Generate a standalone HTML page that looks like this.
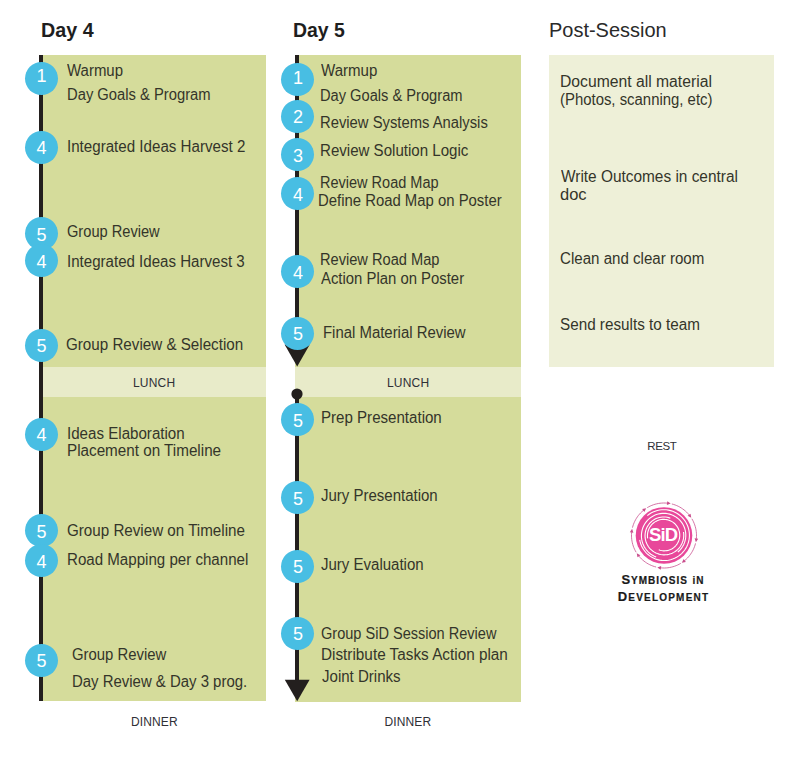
<!DOCTYPE html>
<html><head><meta charset="utf-8"><style>
html,body{margin:0;padding:0;background:#fff;width:800px;height:757px;overflow:hidden;}
body{position:relative;font-family:"Liberation Sans",sans-serif;}
.t{position:absolute;white-space:nowrap;}
.r{position:absolute;}
.c{position:absolute;border-radius:50%;}
.n{position:absolute;width:30px;text-align:center;font-size:18px;line-height:20px;color:#fff;}
</style></head><body>
<div class="t" id="h4" style="left:41.08px;top:19.23px;font-size:21px;line-height:21px;color:#1e1e1e;font-weight:bold;transform:scaleX(0.9394);transform-origin:0 0;">Day 4</div>
<div class="t" id="h5" style="left:293.07px;top:19.23px;font-size:21px;line-height:21px;color:#1e1e1e;font-weight:bold;transform:scaleX(0.9259);transform-origin:0 0;">Day 5</div>
<div class="t" id="hp" style="left:548.67px;top:19.23px;font-size:21px;line-height:21px;color:#2a2a2a;transform:scaleX(0.9505);transform-origin:0 0;">Post-Session</div>
<div class="r" style="left:39px;top:55px;width:227px;height:646px;background:#d5dc9b;"></div>
<div class="r" style="left:43px;top:366.5px;width:223px;height:30px;background:#e8ebc9;"></div>
<div class="r" style="left:295px;top:55px;width:225.5px;height:646.5px;background:#d5dc9b;"></div>
<div class="r" style="left:294.5px;top:366.5px;width:226px;height:30px;background:#e8ebc9;"></div>
<div class="r" style="left:549px;top:55px;width:224.5px;height:311.5px;background:#eef0d8;"></div>
<div class="r" style="left:39px;top:55px;width:4px;height:646px;background:#231f1e;"></div>
<div class="r" style="left:295px;top:55px;width:4px;height:290px;background:#231f1e;"></div>
<div class="r" style="left:295px;top:394px;width:4px;height:290px;background:#231f1e;"></div>
<svg class="r" style="left:0;top:0" width="800" height="757"><polygon points="284.6,344.5 309.8,344.5 297.2,366.5" fill="#231f1e"/><polygon points="284.8,679.7 309.6,679.7 297.2,701.2" fill="#231f1e"/><circle cx="297" cy="394" r="5.6" fill="#231f1e"/></svg>
<div class="c" style="left:24.90px;top:61.50px;width:33px;height:33px;background:#48bee3"></div>
<div class="n" style="left:26.40px;top:66.00px;">1</div>
<div class="c" style="left:24.90px;top:130.50px;width:33px;height:33px;background:#48bee3"></div>
<div class="n" style="left:26.40px;top:138.40px;">4</div>
<div class="c" style="left:24.90px;top:217.30px;width:33px;height:33px;background:#48bee3"></div>
<div class="n" style="left:26.40px;top:224.60px;">5</div>
<div class="c" style="left:24.90px;top:244.20px;width:33px;height:33px;background:#48bee3"></div>
<div class="n" style="left:26.40px;top:252.10px;">4</div>
<div class="c" style="left:24.90px;top:329.00px;width:33px;height:33px;background:#48bee3"></div>
<div class="n" style="left:26.40px;top:336.30px;">5</div>
<div class="c" style="left:24.90px;top:417.50px;width:33px;height:33px;background:#48bee3"></div>
<div class="n" style="left:26.40px;top:425.40px;">4</div>
<div class="c" style="left:24.90px;top:514.20px;width:33px;height:33px;background:#48bee3"></div>
<div class="n" style="left:26.40px;top:521.50px;">5</div>
<div class="c" style="left:24.90px;top:544.10px;width:33px;height:33px;background:#48bee3"></div>
<div class="n" style="left:26.40px;top:552.00px;">4</div>
<div class="c" style="left:24.90px;top:643.50px;width:33px;height:33px;background:#48bee3"></div>
<div class="n" style="left:26.40px;top:650.80px;">5</div>
<div class="c" style="left:281.40px;top:63.30px;width:33px;height:33px;background:#48bee3"></div>
<div class="n" style="left:282.90px;top:67.80px;">1</div>
<div class="c" style="left:281.40px;top:100.40px;width:33px;height:33px;background:#48bee3"></div>
<div class="n" style="left:282.90px;top:106.50px;">2</div>
<div class="c" style="left:281.40px;top:138.00px;width:33px;height:33px;background:#48bee3"></div>
<div class="n" style="left:282.90px;top:145.50px;">3</div>
<div class="c" style="left:281.40px;top:177.10px;width:33px;height:33px;background:#48bee3"></div>
<div class="n" style="left:282.90px;top:185.00px;">4</div>
<div class="c" style="left:281.40px;top:254.80px;width:33px;height:33px;background:#48bee3"></div>
<div class="n" style="left:282.90px;top:262.70px;">4</div>
<div class="c" style="left:281.40px;top:317.00px;width:33px;height:33px;background:#48bee3"></div>
<div class="n" style="left:282.90px;top:324.30px;">5</div>
<div class="c" style="left:281.40px;top:403.20px;width:33px;height:33px;background:#48bee3"></div>
<div class="n" style="left:282.90px;top:410.50px;">5</div>
<div class="c" style="left:281.40px;top:481.40px;width:33px;height:33px;background:#48bee3"></div>
<div class="n" style="left:282.90px;top:488.70px;">5</div>
<div class="c" style="left:281.40px;top:549.90px;width:33px;height:33px;background:#48bee3"></div>
<div class="n" style="left:282.90px;top:557.20px;">5</div>
<div class="c" style="left:281.40px;top:616.90px;width:33px;height:33px;background:#48bee3"></div>
<div class="n" style="left:282.90px;top:624.20px;">5</div>
<div class="t" id="t0" style="left:67.42px;top:62.56px;font-size:16px;line-height:16px;color:#34352a;transform:scaleX(0.9357);transform-origin:0 0;">Warmup</div>
<div class="t" id="t1" style="left:66.51px;top:86.96px;font-size:16px;line-height:16px;color:#34352a;transform:scaleX(0.9229);transform-origin:0 0;">Day Goals &amp; Program</div>
<div class="t" id="t2" style="left:66.69px;top:138.56px;font-size:16px;line-height:16px;color:#34352a;transform:scaleX(0.9457);transform-origin:0 0;">Integrated Ideas Harvest 2</div>
<div class="t" id="t3" style="left:66.65px;top:223.96px;font-size:16px;line-height:16px;color:#34352a;transform:scaleX(0.9139);transform-origin:0 0;">Group Review</div>
<div class="t" id="t4" style="left:66.69px;top:254.06px;font-size:16px;line-height:16px;color:#34352a;transform:scaleX(0.9425);transform-origin:0 0;">Integrated Ideas Harvest 3</div>
<div class="t" id="t5" style="left:66.45px;top:337.46px;font-size:16px;line-height:16px;color:#34352a;transform:scaleX(0.9487);transform-origin:0 0;">Group Review &amp; Selection</div>
<div class="t" id="t6" style="left:66.69px;top:426.06px;font-size:16px;line-height:16px;color:#34352a;transform:scaleX(0.9451);transform-origin:0 0;">Ideas Elaboration</div>
<div class="t" id="t7" style="left:66.68px;top:443.46px;font-size:16px;line-height:16px;color:#34352a;transform:scaleX(0.9519);transform-origin:0 0;">Placement on Timeline</div>
<div class="t" id="t8" style="left:66.63px;top:522.96px;font-size:16px;line-height:16px;color:#34352a;transform:scaleX(0.9482);transform-origin:0 0;">Group Review on Timeline</div>
<div class="t" id="t9" style="left:66.69px;top:552.06px;font-size:16px;line-height:16px;color:#34352a;transform:scaleX(0.9437);transform-origin:0 0;">Road Mapping per channel</div>
<div class="t" id="t10" style="left:72.42px;top:646.76px;font-size:16px;line-height:16px;color:#34352a;transform:scaleX(0.9297);transform-origin:0 0;">Group Review</div>
<div class="t" id="t11" style="left:72.49px;top:674.46px;font-size:16px;line-height:16px;color:#34352a;transform:scaleX(0.9335);transform-origin:0 0;">Day Review &amp; Day 3 prog.</div>
<div class="t" id="t12" style="left:321.00px;top:62.96px;font-size:16px;line-height:16px;color:#34352a;transform:scaleX(0.9408);transform-origin:0 0;">Warmup</div>
<div class="t" id="t13" style="left:320.08px;top:87.56px;font-size:16px;line-height:16px;color:#34352a;transform:scaleX(0.9156);transform-origin:0 0;">Day Goals &amp; Program</div>
<div class="t" id="t14" style="left:320.07px;top:115.46px;font-size:16px;line-height:16px;color:#34352a;transform:scaleX(0.9250);transform-origin:0 0;">Review Systems Analysis</div>
<div class="t" id="t15" style="left:320.06px;top:143.06px;font-size:16px;line-height:16px;color:#34352a;transform:scaleX(0.9423);transform-origin:0 0;">Review Solution Logic</div>
<div class="t" id="t16" style="left:320.09px;top:174.56px;font-size:16px;line-height:16px;color:#34352a;transform:scaleX(0.9070);transform-origin:0 0;">Review Road Map</div>
<div class="t" id="t17" style="left:317.68px;top:193.46px;font-size:16px;line-height:16px;color:#34352a;transform:scaleX(0.9301);transform-origin:0 0;">Define Road Map on Poster</div>
<div class="t" id="t18" style="left:320.09px;top:251.56px;font-size:16px;line-height:16px;color:#34352a;transform:scaleX(0.9132);transform-origin:0 0;">Review Road Map</div>
<div class="t" id="t19" style="left:321.00px;top:271.06px;font-size:16px;line-height:16px;color:#34352a;transform:scaleX(0.9299);transform-origin:0 0;">Action Plan on Poster</div>
<div class="t" id="t20" style="left:323.49px;top:325.06px;font-size:16px;line-height:16px;color:#34352a;transform:scaleX(0.9322);transform-origin:0 0;">Final Material Review</div>
<div class="t" id="t21" style="left:321.06px;top:410.26px;font-size:16px;line-height:16px;color:#34352a;transform:scaleX(0.9429);transform-origin:0 0;">Prep Presentation</div>
<div class="t" id="t22" style="left:321.24px;top:488.46px;font-size:16px;line-height:16px;color:#34352a;transform:scaleX(0.9374);transform-origin:0 0;">Jury Presentation</div>
<div class="t" id="t23" style="left:321.24px;top:556.66px;font-size:16px;line-height:16px;color:#34352a;transform:scaleX(0.9380);transform-origin:0 0;">Jury Evaluation</div>
<div class="t" id="t24" style="left:321.09px;top:625.86px;font-size:16px;line-height:16px;color:#34352a;transform:scaleX(0.9089);transform-origin:0 0;">Group SiD Session Review</div>
<div class="t" id="t25" style="left:321.04px;top:647.06px;font-size:16px;line-height:16px;color:#34352a;transform:scaleX(0.9565);transform-origin:0 0;">Distribute Tasks Action plan</div>
<div class="t" id="t26" style="left:322.00px;top:669.46px;font-size:16px;line-height:16px;color:#34352a;transform:scaleX(0.9398);transform-origin:0 0;">Joint Drinks</div>
<div class="t" id="t27" style="left:560.42px;top:73.96px;font-size:16px;line-height:16px;color:#34352a;transform:scaleX(0.9816);transform-origin:0 0;">Document all material</div>
<div class="t" id="t28" style="left:560.49px;top:91.96px;font-size:16px;line-height:16px;color:#34352a;transform:scaleX(0.9317);transform-origin:0 0;">(Photos, scanning, etc)</div>
<div class="t" id="t29" style="left:561.41px;top:169.06px;font-size:16px;line-height:16px;color:#34352a;transform:scaleX(0.9626);transform-origin:0 0;">Write Outcomes in central</div>
<div class="t" id="t30" style="left:560.38px;top:187.06px;font-size:16px;line-height:16px;color:#34352a;transform:scaleX(1.0292);transform-origin:0 0;">doc</div>
<div class="t" id="t31" style="left:560.42px;top:250.56px;font-size:16px;line-height:16px;color:#34352a;transform:scaleX(0.9434);transform-origin:0 0;">Clean and clear room</div>
<div class="t" id="t32" style="left:560.42px;top:317.16px;font-size:16px;line-height:16px;color:#34352a;transform:scaleX(0.9531);transform-origin:0 0;">Send results to team</div>
<div class="t" style="left:54px;width:200px;text-align:center;top:377.04px;font-size:12px;line-height:12px;letter-spacing:0.2px;text-indent:0.2px;color:#2f3036">LUNCH</div>
<div class="t" style="left:308px;width:200px;text-align:center;top:376.84px;font-size:12px;line-height:12px;letter-spacing:0.2px;text-indent:0.2px;color:#2f3036">LUNCH</div>
<div class="t" style="left:54.30000000000001px;width:200px;text-align:center;top:715.84px;font-size:12px;line-height:12px;letter-spacing:0.15px;text-indent:0.15px;color:#2f3036">DINNER</div>
<div class="t" style="left:307.8px;width:200px;text-align:center;top:715.84px;font-size:12px;line-height:12px;letter-spacing:0.15px;text-indent:0.15px;color:#2f3036">DINNER</div>
<div class="t" style="left:562px;width:200px;text-align:center;top:440.87px;font-size:11.5px;line-height:11.5px;letter-spacing:-0.45px;text-indent:-0.45px;color:#2f3036">REST</div>
<svg class="r" style="left:600px;top:470px" width="130" height="130" viewBox="600 470 130 130"><circle cx="664" cy="535.5" r="28.3" fill="#e8489a"/><polyline points="647.29,515.58 649.10,514.22 651.02,513.02 653.04,512.00 655.14,511.15 657.30,510.49 659.51,510.03 661.75,509.75 664.00,509.68 666.25,509.80 668.48,510.11 670.67,510.62 672.80,511.32 674.87,512.20 676.84,513.25 678.72,514.48 680.48,515.86 682.12,517.38 683.61,519.04 684.95,520.83 686.13,522.72 687.14,524.71 687.97,526.77 688.62,528.90 689.08,531.08 689.35,533.28 689.42,535.50 689.30,537.71 688.99,539.91 688.49,542.06 687.81,544.16 686.94,546.20 685.90,548.14 684.70,549.99 683.34,551.73 681.83,553.33 680.20,554.80 678.44,556.12 676.58,557.29 674.62,558.28 672.59,559.10 670.49,559.73 668.35,560.19 666.18,560.45 664.00,560.52 661.82,560.40 659.66,560.10 657.54,559.61 655.47,558.93 653.47,558.08 651.56,557.05 649.74,555.87 648.03,554.53 646.45,553.05 645.00,551.44 643.70,549.71 642.56,547.88 641.58,545.95 640.78,543.95 640.15,541.89 639.71,539.78" fill="none" stroke="#fff" stroke-width="1.1"/><polyline points="656.17,557.02 654.33,556.23 652.57,555.29 650.90,554.20 649.34,552.97 647.89,551.61 646.56,550.13 645.37,548.55 644.32,546.86 643.43,545.09 642.69,543.26 642.12,541.36 641.71,539.43 641.47,537.47 641.41,535.50 641.52,533.53 641.80,531.59 642.25,529.67 642.86,527.80 643.63,526.00 644.55,524.27 645.62,522.63 646.83,521.09 648.17,519.67 649.62,518.37 651.18,517.20 652.84,516.17 654.58,515.29 656.38,514.57 658.24,514.00 660.14,513.60 662.06,513.37 664.00,513.31 665.93,513.42 667.85,513.69 669.73,514.13 671.56,514.73 673.33,515.49 675.03,516.40 676.64,517.45 678.15,518.64 679.55,519.95 680.83,521.38 681.98,522.91 682.99,524.54 683.85,526.24 684.56,528.02 685.11,529.84 685.50,531.71 685.73,533.60 685.79,535.50 685.68,537.40 685.41,539.28 684.98,541.12 684.39,542.92 683.65,544.66 682.75,546.33 681.72,547.91 680.56,549.39 679.27,550.77 677.86,552.02" fill="none" stroke="#fff" stroke-width="1.1"/><polyline points="683.50,532.06 683.70,533.78 683.76,535.50 683.66,537.22 683.41,538.92 683.02,540.60 682.48,542.23 681.80,543.80 680.99,545.31 680.06,546.74 679.00,548.08 677.83,549.33 676.56,550.46 675.19,551.48 673.74,552.38 672.23,553.14 670.65,553.77 669.03,554.26 667.37,554.61 665.69,554.80 664.00,554.86 662.31,554.76 660.65,554.52 659.01,554.13 657.41,553.60 655.87,552.94 654.39,552.15 652.99,551.23 651.67,550.19 650.45,549.05 649.34,547.80 648.35,546.46 647.47,545.04 646.72,543.56 646.10,542.01 645.63,540.42 645.29,538.80 645.09,537.15 645.04,535.50 645.14,533.85 645.38,532.22 645.75,530.61 646.27,529.05 646.92,527.54 647.70,526.09 648.60,524.72 649.62,523.43 650.74,522.24 651.96,521.15 653.27,520.17 654.66,519.31 656.11,518.58 657.62,517.98 659.18,517.51 660.77,517.18 662.38,516.99 664.00,516.94 665.62,517.04 667.21,517.27 668.79,517.64 670.32,518.15" fill="none" stroke="#fff" stroke-width="1.1"/><polyline points="647.65,538.38 647.49,536.94 647.44,535.50 647.53,534.06 647.74,532.63 648.07,531.23 648.53,529.87 649.10,528.55 649.78,527.29 650.57,526.09 651.45,524.97 652.43,523.93 653.50,522.99 654.64,522.14 655.86,521.39 657.13,520.76 658.44,520.24 659.80,519.83 661.19,519.55 662.59,519.38 664.00,519.34 665.41,519.43 666.80,519.63 668.16,519.96 669.50,520.40 670.78,520.96 672.01,521.62 673.18,522.39 674.27,523.26 675.28,524.22 676.21,525.26 677.03,526.37 677.76,527.56 678.38,528.79 678.89,530.08 679.28,531.40 679.56,532.76 679.72,534.12 679.76,535.50 679.67,536.87 679.47,538.23 679.15,539.56 678.72,540.86 678.18,542.11 677.53,543.31 676.78,544.45 675.93,545.51 675.00,546.50 673.98,547.40 672.90,548.21 671.74,548.91 670.54,549.52 669.28,550.01 667.99,550.40 666.67,550.67 665.34,550.82 664.00,550.86 662.66,550.77 661.34,550.58 660.04,550.27 658.78,549.85" fill="none" stroke="#fff" stroke-width="1.1"/><polyline points="647.26,507.64 648.74,506.80 650.26,506.04 651.83,505.37 653.42,504.77 655.04,504.26 656.69,503.83 658.36,503.49 660.04,503.24 661.73,503.08 663.43,503.00 665.13,503.02 666.83,503.12 668.52,503.32" fill="none" stroke="#c9508f" stroke-width="0.8"/><polygon points="670.70,503.62 667.29,501.33 666.79,504.89" fill="#c94d8c"/><polyline points="671.86,503.97 673.50,504.42 675.12,504.96 676.70,505.58 678.25,506.29 679.76,507.07 681.22,507.94 682.64,508.88 684.01,509.89 685.32,510.97 686.58,512.12 687.77,513.34 688.90,514.61 689.96,515.94" fill="none" stroke="#c9508f" stroke-width="0.8"/><polygon points="691.28,517.70 690.49,513.66 687.62,515.83" fill="#c94d8c"/><polyline points="691.86,518.76 692.70,520.24 693.46,521.76 694.13,523.33 694.73,524.92 695.24,526.54 695.67,528.19 696.01,529.86 696.26,531.54 696.42,533.23 696.50,534.93 696.48,536.63 696.38,538.33 696.18,540.02" fill="none" stroke="#c9508f" stroke-width="0.8"/><polygon points="695.88,542.20 698.17,538.79 694.61,538.29" fill="#c94d8c"/><polyline points="695.53,543.36 695.08,545.00 694.54,546.62 693.92,548.20 693.21,549.75 692.43,551.26 691.56,552.72 690.62,554.14 689.61,555.51 688.53,556.82 687.38,558.08 686.16,559.27 684.89,560.40 683.56,561.46" fill="none" stroke="#c9508f" stroke-width="0.8"/><polygon points="681.80,562.78 685.84,561.99 683.67,559.12" fill="#c94d8c"/><polyline points="680.74,563.36 679.26,564.20 677.74,564.96 676.17,565.63 674.58,566.23 672.96,566.74 671.31,567.17 669.64,567.51 667.96,567.76 666.27,567.92 664.57,568.00 662.87,567.98 661.17,567.88 659.48,567.68" fill="none" stroke="#c9508f" stroke-width="0.8"/><polygon points="657.30,567.38 660.71,569.67 661.21,566.11" fill="#c94d8c"/><polyline points="656.14,567.03 654.50,566.58 652.88,566.04 651.30,565.42 649.75,564.71 648.24,563.93 646.78,563.06 645.36,562.12 643.99,561.11 642.68,560.03 641.42,558.88 640.23,557.66 639.10,556.39 638.04,555.06" fill="none" stroke="#c9508f" stroke-width="0.8"/><polygon points="636.72,553.30 637.51,557.34 640.38,555.17" fill="#c94d8c"/><polyline points="636.14,552.24 635.30,550.76 634.54,549.24 633.87,547.67 633.27,546.08 632.76,544.46 632.33,542.81 631.99,541.14 631.74,539.46 631.58,537.77 631.50,536.07 631.52,534.37 631.62,532.67 631.82,530.98" fill="none" stroke="#c9508f" stroke-width="0.8"/><polygon points="632.12,528.80 629.83,532.21 633.39,532.71" fill="#c94d8c"/><polyline points="632.47,527.64 632.92,526.00 633.46,524.38 634.08,522.80 634.79,521.25 635.57,519.74 636.44,518.28 637.38,516.86 638.39,515.49 639.47,514.18 640.62,512.92 641.84,511.73 643.11,510.60 644.44,509.54" fill="none" stroke="#c9508f" stroke-width="0.8"/><polygon points="646.20,508.22 642.16,509.01 644.33,511.88" fill="#c94d8c"/></svg>
<div class="t" style="left:649px;top:526.3px;font-size:18.5px;line-height:18.5px;font-weight:bold;letter-spacing:-0.9px;color:#fff">SiD</div>
<div class="t" style="left:563px;width:200px;text-align:center;top:573px;font-size:13px;line-height:13px;font-weight:bold;letter-spacing:1.0px;-webkit-text-stroke:0.2px #1a1a1a;color:#1a1a1a">S<span style="font-size:10px">YMBIOSIS</span> <span style="font-size:10px">iN</span></div>
<div class="t" style="left:563.5px;width:200px;text-align:center;top:590.4px;font-size:13px;line-height:13px;font-weight:bold;letter-spacing:1.2px;-webkit-text-stroke:0.2px #1a1a1a;color:#1a1a1a">D<span style="font-size:10px">EVELOPMENT</span></div>
</body></html>
